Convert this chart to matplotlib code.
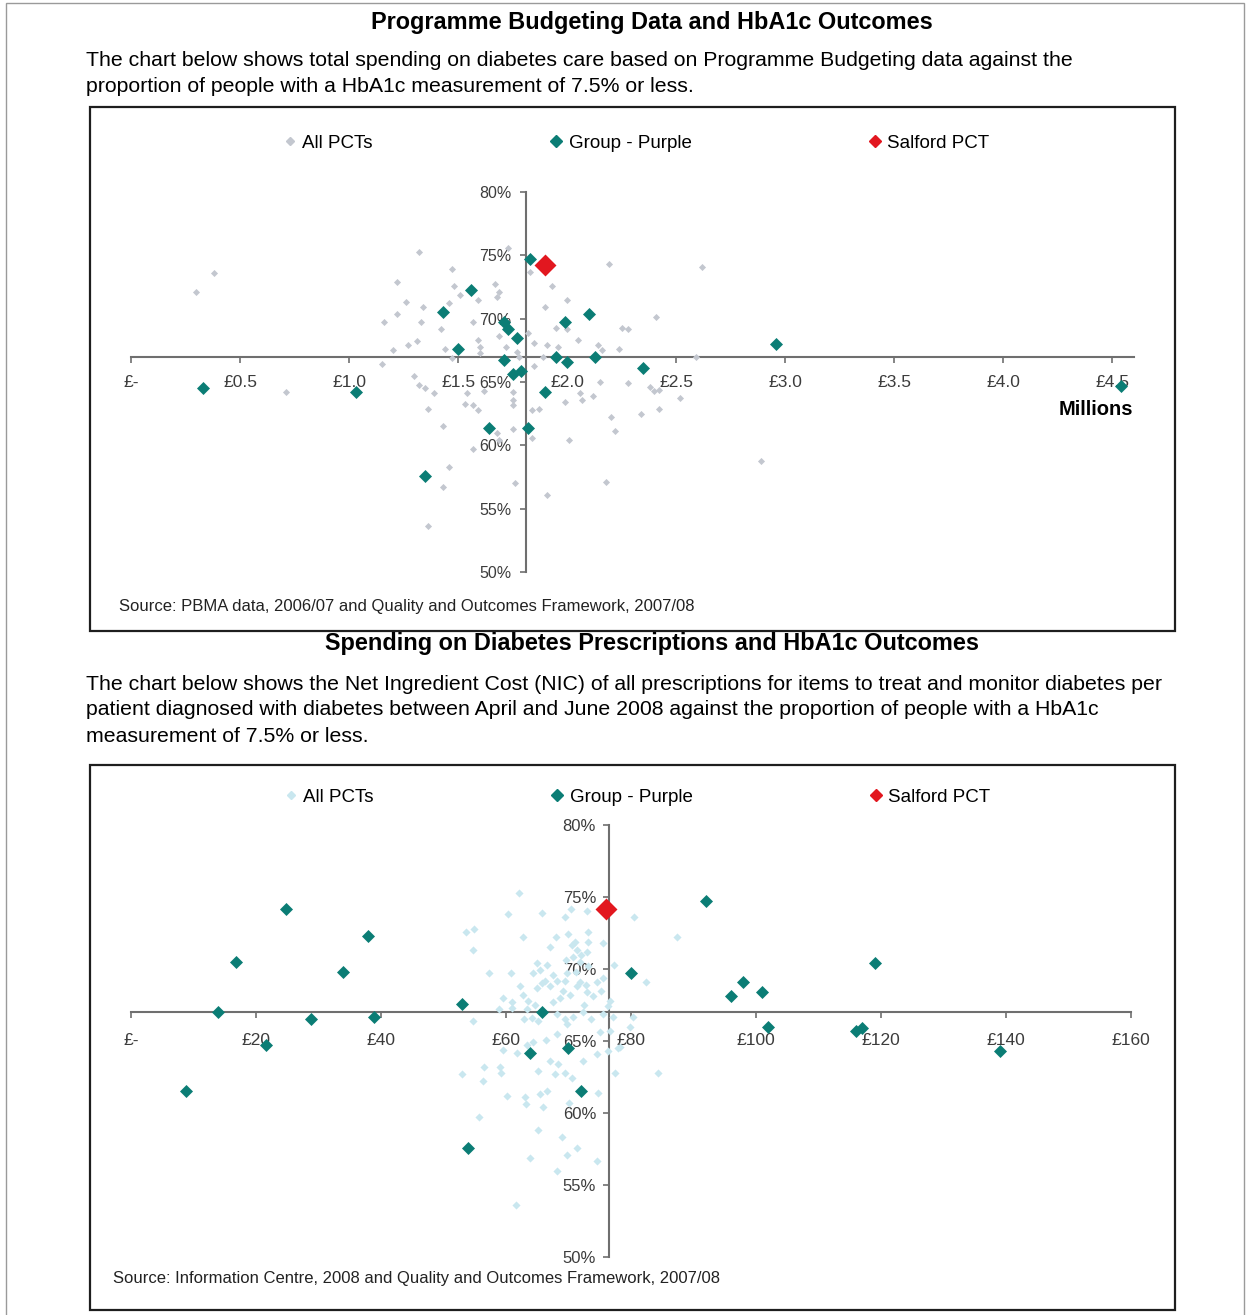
import matplotlib.pyplot as plt
from matplotlib.lines import Line2D
from matplotlib.patches import Rectangle

plt.rcParams['font.family'] = ['Liberation Sans', 'DejaVu Sans']

# ---------------- data ----------------
LEGEND_LABELS = ['All PCTs', 'Group - Purple', 'Salford PCT']
Y_TICKS = [50, 55, 60, 65, 70, 75, 80]

# chart 1: total programme budgeting spend (GBP millions) vs % HbA1c <= 7.5%
top_xticks = [0, 0.5, 1.0, 1.5, 2.0, 2.5, 3.0, 3.5, 4.0, 4.5]
top_xticklabels = ['£-', '£0.5', '£1.0', '£1.5', '£2.0', '£2.5', '£3.0', '£3.5', '£4.0', '£4.5']
top_all_x = [0.30, 0.38, 0.71, 1.15, 1.16, 1.20, 1.22, 1.22, 1.26, 1.27,
             1.30, 1.32, 1.31, 1.32, 1.33, 1.34, 1.35, 1.36, 1.39, 1.42,
             1.44, 1.43, 1.46, 1.47, 1.46, 1.48, 1.51, 1.53, 1.57, 1.57,
             1.57, 1.59, 1.59, 1.60, 1.60, 1.59, 1.62, 1.67, 1.69, 1.68,
             1.69, 1.72, 1.73, 1.75, 1.75, 1.75, 1.75, 1.68, 1.69, 1.77,
             1.78, 1.82, 1.83, 1.85, 1.85, 1.84, 1.87, 1.84, 1.47, 1.43,
             1.76, 1.36, 1.54, 1.93, 2.00, 1.90, 1.95, 2.00, 1.91, 1.96,
             2.05, 2.14, 2.16, 2.24, 2.25, 2.28, 2.41, 2.59, 2.19, 2.62,
             1.89, 2.15, 2.28, 2.38, 2.40, 2.42, 2.06, 2.07, 2.12, 1.99,
             2.52, 2.20, 2.34, 2.42, 2.22, 2.01, 2.18, 1.91, 2.89]
top_all_y = [72.1, 73.6, 64.2, 66.4, 69.7, 67.5, 70.4, 72.9, 71.3, 67.9,
             65.5, 75.3, 68.2, 64.8, 69.7, 70.9, 64.5, 62.9, 64.1, 69.2,
             67.6, 61.5, 58.3, 73.9, 71.2, 72.6, 71.9, 63.3, 69.7, 59.7,
             63.2, 71.5, 68.3, 67.8, 67.3, 62.8, 64.3, 72.7, 72.1, 71.7,
             68.6, 67.8, 75.6, 64.2, 63.6, 63.2, 61.3, 61.0, 60.4, 67.4,
             67.0, 68.9, 73.7, 68.1, 66.3, 62.8, 62.9, 60.6, 66.9, 56.7,
             57.0, 53.6, 64.1, 72.6, 71.5, 70.9, 69.3, 69.2, 67.9, 67.8,
             68.3, 67.9, 67.5, 67.6, 69.3, 69.2, 70.1, 67.0, 74.3, 74.1,
             67.0, 65.0, 64.9, 64.6, 64.3, 64.4, 64.1, 63.6, 63.9, 63.4,
             63.7, 62.2, 62.5, 62.9, 61.1, 60.4, 57.1, 56.1, 58.8]
top_grp_x = [0.33, 1.03, 1.35, 1.43, 1.50, 1.56, 1.64, 1.71, 1.73, 1.77, 1.71, 1.75,
             1.79, 1.83, 1.82, 1.90, 1.95, 2.00, 1.99, 2.10, 2.13, 2.35, 2.96, 4.54]
top_grp_y = [64.5, 64.2, 57.6, 70.5, 67.6, 72.3, 61.4, 69.7, 69.2, 68.5, 66.7, 65.6,
             65.9, 74.7, 61.4, 64.2, 67.0, 66.6, 69.7, 70.4, 67.0, 66.1, 68.0, 64.7]
top_sal_x = [1.90]
top_sal_y = [74.2]

# chart 2: prescribing NIC per diabetic patient (GBP) vs % HbA1c <= 7.5%
bot_xticks = [0, 20, 40, 60, 80, 100, 120, 140, 160]
bot_xticklabels = ['£-', '£20', '£40', '£60', '£80', '£100', '£120', '£140', '£160']
bot_all_x = [62.1, 60.3, 65.8, 69.4, 70.4, 73.0, 80.5, 87.4, 53.6, 54.9,
             54.7, 62.7, 67.0, 68.0, 69.9, 73.1, 75.5, 70.6, 71.0, 71.4,
             73.1, 73.0, 70.7, 72.0, 57.3, 60.8, 65.0, 64.3, 65.4, 66.6,
             67.5, 68.2, 69.8, 74.6, 75.5, 65.8, 67.0, 65.0, 69.1, 70.2,
             71.4, 71.8, 59.5, 61.0, 62.7, 63.5, 64.6, 67.5, 68.6, 73.0,
             73.9, 76.6, 76.3, 82.4, 77.3, 72.8, 61.0, 63.4, 68.2, 69.4,
             70.7, 72.3, 75.5, 64.2, 54.7, 59.5, 61.8, 63.4, 64.3, 66.4,
             68.2, 69.8, 75.0, 76.6, 74.6, 76.3, 77.9, 72.3, 67.0, 68.3,
             67.8, 69.4, 70.6, 84.3, 77.4, 53.0, 56.5, 56.3, 59.0, 59.2,
             65.1, 60.2, 63.0, 63.2, 65.4, 66.6, 65.9, 70.1, 74.7, 55.7,
             65.1, 69.0, 71.4, 69.8, 63.8, 68.2, 74.6, 61.6, 80.3, 79.8,
             78.2, 77.1, 62.9, 65.1, 73.6, 72.5, 75.2, 69.4, 71.2, 73.1,
             71.8, 69.6, 62.2, 66.2, 58.9]
bot_all_y = [75.3, 73.8, 73.9, 73.6, 74.2, 74.0, 73.6, 72.2, 72.6, 72.8,
             71.3, 72.2, 71.5, 72.2, 72.4, 72.6, 71.8, 71.7, 71.9, 71.3,
             71.9, 71.2, 70.8, 71.0, 69.7, 69.7, 70.4, 69.7, 69.9, 70.3,
             69.6, 69.2, 69.7, 69.1, 69.4, 69.0, 68.8, 68.7, 68.5, 68.2,
             68.8, 69.1, 68.0, 67.7, 68.2, 67.8, 67.5, 67.7, 68.0, 68.4,
             68.1, 67.8, 67.4, 69.1, 70.3, 68.9, 67.3, 67.2, 66.9, 66.5,
             66.7, 67.0, 66.9, 66.6, 66.4, 64.4, 64.2, 64.7, 64.9, 65.1,
             65.5, 66.2, 65.6, 65.7, 64.1, 64.3, 64.5, 63.6, 63.6, 63.4,
             62.7, 62.8, 62.4, 62.8, 62.8, 62.7, 63.2, 62.2, 63.2, 62.8,
             62.9, 61.2, 61.1, 60.6, 61.3, 61.5, 60.4, 60.7, 61.4, 59.7,
             58.8, 58.3, 57.6, 57.1, 56.9, 56.0, 56.7, 53.6, 66.7, 66.0,
             64.6, 66.7, 66.5, 66.4, 66.5, 67.5, 68.5, 69.2, 69.8, 70.2,
             70.5, 70.6, 68.8, 69.2, 67.2]
bot_grp_x = [8.8, 13.9, 16.8, 21.6, 24.8, 28.8, 33.9, 37.9, 38.9, 53.0, 53.9, 65.8, 63.8,
             69.9, 72.0, 80.0, 92.0, 96.0, 97.9, 101.0, 101.9, 116.0, 117.0, 119.0, 139.0]
bot_grp_y = [61.5, 67.0, 70.5, 64.7, 74.2, 66.5, 69.8, 72.3, 66.7, 67.6, 57.6, 67.0, 64.2,
             64.5, 61.5, 69.7, 74.7, 68.1, 69.1, 68.4, 66.0, 65.7, 65.9, 70.4, 64.3]
bot_sal_x = [76.0]
bot_sal_y = [74.2]

INTRO_1 = ['The chart below shows total spending on diabetes care based on Programme Budgeting data against the',
           'proportion of people with a HbA1c measurement of 7.5% or less.']
INTRO_2 = ['The chart below shows the Net Ingredient Cost (NIC) of all prescriptions for items to treat and monitor diabetes per',
           'patient diagnosed with diabetes between April and June 2008 against the proportion of people with a HbA1c',
           'measurement of 7.5% or less.']
SOURCE_1 = 'Source: PBMA data, 2006/07 and Quality and Outcomes Framework, 2007/08'
SOURCE_2 = 'Source: Information Centre, 2008 and Quality and Outcomes Framework, 2007/08'

# ---------------- drawing ----------------
W, H = 1250, 1315
TEAL, RED = '#0b7d75', '#e2171f'
GREY, ICE = '#c3c7cf', '#c9e7ef'
AXC = '#6f6f6f'


def fx(px):
    return px / W


def fy(py):
    return 1 - py / H


fig = plt.figure(figsize=(W / 100, H / 100), dpi=100, facecolor='white')

for x0, y0, x1, y1, col, lw in [(6, 3, 1244, 1340, '#9a9a9a', 1.0),
                                (90, 107, 1175, 631, '#1e1e1e', 1.6),
                                (90, 765, 1175, 1310, '#1e1e1e', 1.6)]:
    fig.add_artist(Rectangle((fx(x0), fy(y1)), (x1 - x0) / W, (y1 - y0) / H,
                             transform=fig.transFigure, fill=False,
                             edgecolor=col, linewidth=lw))

fig.text(fx(652), fy(22), 'Programme Budgeting Data and HbA1c Outcomes',
         ha='center', va='center', fontsize=16.9, fontweight='bold')
for py, line in zip((60, 87), INTRO_1):
    fig.text(fx(86), fy(py), line, ha='left', va='center', fontsize=15.3)

fig.text(fx(652), fy(644), 'Spending on Diabetes Prescriptions and HbA1c Outcomes',
         ha='center', va='center', fontsize=16.9, fontweight='bold')
for py, line in zip((684, 710, 737), INTRO_2):
    fig.text(fx(86), fy(py), line, ha='left', va='center', fontsize=15.3)


def chart(rect, xlim, xcross, ticks, ticklabels, all_x, all_y, all_col, all_s,
          grp_x, grp_y, sal_x, sal_y, xpad, ypad, xsize, ysize):
    ax = fig.add_axes(rect)
    ax.set_xlim(*xlim)
    ax.set_ylim(50, 80)
    ax.patch.set_visible(False)
    ax.scatter(all_x, all_y, marker='D', s=all_s, color=all_col, linewidths=0, zorder=3)
    ax.scatter(grp_x, grp_y, marker='D', s=44, color=TEAL, linewidths=0, zorder=4)
    ax.scatter(sal_x, sal_y, marker='D', s=125, color=RED, linewidths=0, zorder=5)
    for side in ('top', 'right'):
        ax.spines[side].set_visible(False)
    ax.spines['left'].set_position(('data', xcross))
    ax.spines['bottom'].set_position(('data', 67))
    for side in ('left', 'bottom'):
        ax.spines[side].set_color(AXC)
        ax.spines[side].set_linewidth(1.5)
        ax.spines[side].set_zorder(1)
    ax.set_axisbelow(True)
    ax.set_xticks(ticks, ticklabels)
    ax.set_yticks(Y_TICKS, [f'{v}%' for v in Y_TICKS])
    ax.tick_params(direction='out', length=4, width=1.2, color=AXC, labelcolor='#3c3c3c')
    ax.tick_params(axis='x', labelsize=xsize, pad=xpad)
    ax.tick_params(axis='y', labelsize=ysize, pad=ypad)
    return ax


chart([fx(131), fy(572), 1003 / W, 380 / H], (0, 4.6), 1.81,
      top_xticks, top_xticklabels, top_all_x, top_all_y, GREY, 13,
      top_grp_x, top_grp_y, top_sal_x, top_sal_y, 9, 6.5, 12.5, 11.5)
chart([fx(131), fy(1257), 1000 / W, 432 / H], (0, 160), 76.4,
      bot_xticks, bot_xticklabels, bot_all_x, bot_all_y, ICE, 17,
      bot_grp_x, bot_grp_y, bot_sal_x, bot_sal_y, 11, 5, 12.5, 12)


def legend(all_col, cx, cy):
    handles = [Line2D([], [], marker='D', ls='none', color=all_col, markersize=4.2),
               Line2D([], [], marker='D', ls='none', color=TEAL, markersize=6.6),
               Line2D([], [], marker='D', ls='none', color=RED, markersize=6.6)]
    fig.legend(handles, LEGEND_LABELS, loc='center', bbox_to_anchor=(fx(cx), fy(cy)),
               ncol=3, frameon=False, fontsize=13.5, handlelength=0.8,
               handletextpad=0.25, columnspacing=9.4, borderpad=0, borderaxespad=0)


legend(GREY, 636, 143)
legend(ICE, 637, 797)

fig.text(fx(1133), fy(409), 'Millions', ha='right', va='center', fontsize=14.5, fontweight='bold')
fig.text(fx(119), fy(607), SOURCE_1, ha='left', va='center', fontsize=12, color='#222222')
fig.text(fx(113), fy(1279), SOURCE_2, ha='left', va='center', fontsize=12, color='#222222')

fig.savefig('out.png', dpi=100, facecolor='white')
